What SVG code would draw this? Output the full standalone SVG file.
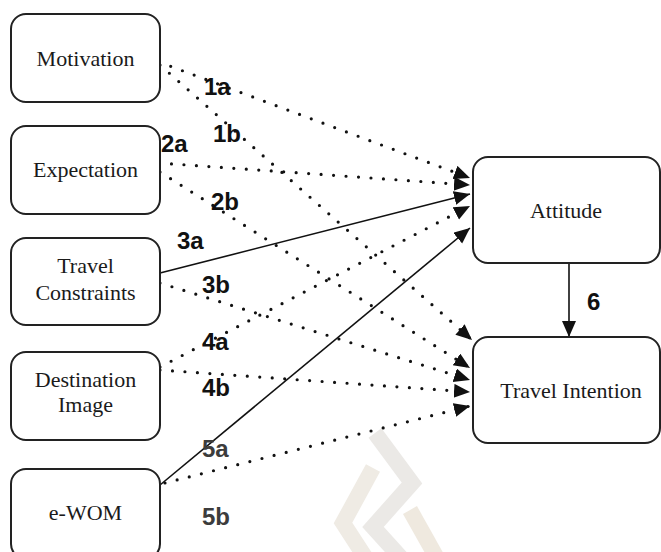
<svg xmlns="http://www.w3.org/2000/svg" width="661" height="552" viewBox="0 0 661 552">
  <style>
    .box { fill: #ffffff; stroke: #222222; stroke-width: 2; }
    .name { font-family: "Liberation Serif", "Times New Roman", serif; font-size: 22px; fill: #1a1a1a; text-anchor: middle; }
    .tag { font-family: "Liberation Sans", Arial, sans-serif; font-size: 24px; font-weight: bold; fill: #111111; }
    .tag.soft { fill: #3c3c3c; }
    .dot { fill: none; stroke: #111111; stroke-width: 3.2; stroke-linecap: round; stroke-dasharray: 0 12.5; marker-end: url(#head); }
    .solid { fill: none; stroke: #111111; stroke-width: 1.6; marker-end: url(#head); }
  </style>
  <defs>
    <marker id="head" markerUnits="userSpaceOnUse" markerWidth="18" markerHeight="16" refX="16" refY="7" orient="auto">
      <path d="M0,0 L16,7 L0,14 Z" fill="#111111"/>
    </marker>
  </defs>

  <rect width="661" height="552" fill="#ffffff"/>

  <!-- faint logo mark near the bottom -->
  <g id="logo" fill="none" stroke-linejoin="miter" stroke-linecap="butt">
    <polyline points="375,433 412,483 373,527 403,560" stroke="#ebe9e6" stroke-width="16"/>
    <polyline points="373,468 343,523 367,560" stroke="#efebe4" stroke-width="16"/>
    <polyline points="410,510 438,560" stroke="#efe9df" stroke-width="16"/>
  </g>

  <!-- connectors -->
  <g id="connectors">
    <line class="dot" x1="159" y1="62" x2="470" y2="178"/>
    <line class="dot" x1="160" y1="65" x2="472" y2="340"/>
    <line class="dot" x1="159" y1="163" x2="470" y2="185"/>
    <line class="dot" x1="160" y1="172" x2="470" y2="368"/>
    <line class="solid" x1="160" y1="273" x2="470" y2="194"/>
    <line class="dot" x1="160" y1="283" x2="470" y2="380"/>
    <line class="dot" x1="160" y1="367" x2="470" y2="206"/>
    <line class="dot" x1="160" y1="370" x2="470" y2="392"/>
    <line class="solid" x1="160" y1="485" x2="470" y2="228"/>
    <line class="dot" x1="165" y1="483" x2="470" y2="406"/>
    <line class="solid" x1="569" y1="263" x2="569" y2="337"/>
  </g>

  <!-- path labels -->
  <g id="labels">
    <text class="tag" x="204" y="95">1a</text>
    <text class="tag" x="213" y="142">1b</text>
    <text class="tag" x="161" y="152">2a</text>
    <text class="tag" x="211" y="210">2b</text>
    <text class="tag" x="177" y="249">3a</text>
    <text class="tag" x="202" y="293">3b</text>
    <text class="tag" x="202" y="350">4a</text>
    <text class="tag" x="202" y="396">4b</text>
    <text class="tag soft" x="202" y="457">5a</text>
    <text class="tag soft" x="202" y="525">5b</text>
    <text class="tag" x="587" y="310">6</text>
  </g>

  <!-- constructs -->
  <g id="motivation">
    <rect class="box" x="11" y="14" width="149" height="88" rx="15"/>
    <text class="name" x="85.5" y="66">Motivation</text>
  </g>
  <g id="expectation">
    <rect class="box" x="11" y="126" width="149" height="88" rx="15"/>
    <text class="name" x="85.5" y="177">Expectation</text>
  </g>
  <g id="travel-constraints">
    <rect class="box" x="11" y="238" width="149" height="87" rx="15"/>
    <text class="name" x="85.5" y="273">Travel</text>
    <text class="name" x="85.5" y="300">Constraints</text>
  </g>
  <g id="destination-image">
    <rect class="box" x="11" y="352" width="149" height="88" rx="15"/>
    <text class="name" x="85.5" y="387">Destination</text>
    <text class="name" x="85.5" y="412">Image</text>
  </g>
  <g id="ewom">
    <rect class="box" x="11" y="469" width="149" height="90" rx="15"/>
    <text class="name" x="85.5" y="520">e-WOM</text>
  </g>
  <g id="attitude">
    <rect class="box" x="473" y="157" width="187" height="106" rx="15"/>
    <text class="name" x="566" y="218">Attitude</text>
  </g>
  <g id="travel-intention">
    <rect class="box" x="473" y="337" width="187" height="106" rx="15"/>
    <text class="name" x="571" y="398">Travel Intention</text>
  </g>
</svg>
